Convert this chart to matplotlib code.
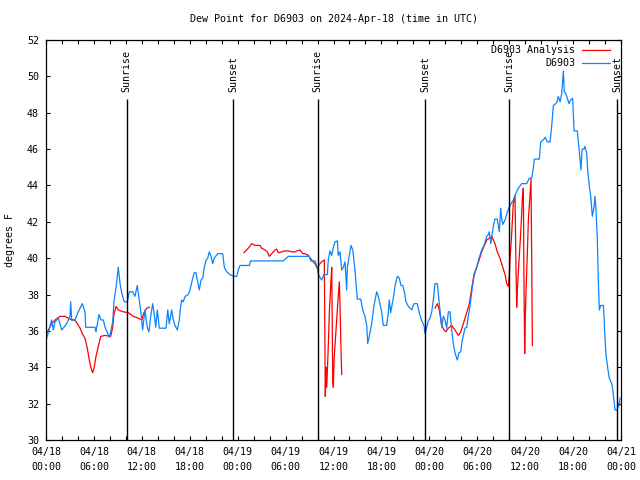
import matplotlib
matplotlib.use("Agg")
import matplotlib.pyplot as plt
import numpy as np

# hours since 04/18 00:00 UTC, dew point (F)
obs_t = [0.09, 0.71, 0.91, 1.13, 1.54, 1.97, 2.59, 3.01, 3.09, 3.22, 3.63, 4.04, 4.55, 4.88, 4.97,
         6.14, 6.26, 6.64, 6.89, 7.18, 7.39, 7.93, 8.10, 8.35, 8.51, 8.77, 9.05, 9.27, 9.48, 9.80,
         10.18, 10.43, 10.86, 11.14, 11.43, 11.68, 11.89, 12.10, 12.39, 12.68, 12.89, 13.11, 13.36, 13.53,
         13.74, 13.94, 14.19, 15.03, 15.24, 15.44, 15.74, 15.94, 16.15, 16.44, 16.69, 16.87, 16.99,
         17.19, 17.41, 17.82, 18.03, 18.37, 18.57, 18.78, 18.95, 19.20, 19.41, 19.62, 19.82, 20.04,
         20.25, 20.45, 20.66, 20.87, 21.07, 21.50, 22.13, 22.33, 22.63, 23.04, 23.45, 23.88, 24.08,
         24.29, 25.46, 25.63, 29.72, 30.34, 32.97, 33.15, 33.68, 33.97, 34.10, 34.52, 34.81, 35.23,
         35.35, 35.56, 35.78, 35.98, 36.19, 36.48, 36.60, 36.81, 37.03, 37.23, 37.44, 37.65, 37.73,
         37.98, 38.19, 38.41, 38.69, 38.98, 39.41, 39.66, 39.94, 40.16, 40.28, 40.48, 40.78, 41.07,
         41.41, 41.61, 41.82, 42.04, 42.24, 42.66, 42.86, 42.99, 43.16, 43.49, 43.70, 43.99, 44.24,
         44.45, 44.67, 44.87, 45.08, 45.37, 45.79, 46.08, 46.49, 46.74, 47.05, 47.33, 47.46, 47.67,
         47.87, 48.08, 48.30, 48.50, 48.71, 49.00, 49.25, 49.55, 49.75, 49.96, 50.17, 50.38, 50.59,
         50.80, 51.00, 51.21, 51.50, 51.72, 51.93, 52.13, 52.47, 52.68, 52.88, 53.09, 53.31, 53.59,
         53.93, 54.22, 54.56, 54.85, 55.19, 55.39, 55.51, 55.69, 55.85, 56.01, 56.22, 56.51, 56.76,
         56.94, 57.06, 57.19, 57.48, 57.77, 58.10, 58.51, 58.73, 59.14, 59.57, 60.19, 60.52, 60.82,
         61.02, 61.15, 61.77, 61.95, 62.27, 62.49, 62.77, 63.11, 63.32, 63.53, 63.95, 64.15, 64.37,
         64.58, 64.70, 64.78, 64.90, 65.08, 65.28, 65.49, 65.70, 65.95, 66.12, 66.53, 66.74, 66.99,
         67.12, 67.37, 67.49, 67.71, 67.83, 68.03, 68.21, 68.41, 68.62, 68.75, 68.87, 69.03, 69.16,
         69.29, 69.46, 69.79, 69.87, 70.00, 70.12, 70.34, 70.54, 70.84, 70.97, 71.13, 71.25, 71.54,
         71.63, 71.72, 71.88]
obs_v = [35.6, 36.6, 36.05, 36.5, 36.7, 36.05, 36.4, 36.8, 37.6, 36.6, 36.6, 37.05, 37.5, 37.05, 36.2,
         36.2, 35.95, 36.9, 36.6, 36.6, 36.2, 35.65, 35.95, 36.5, 37.6, 38.4, 39.5, 38.6, 38.1, 37.6,
         37.6, 38.15, 38.15, 37.9, 38.5, 37.7, 37.0, 36.05, 37.15, 36.2, 35.95, 36.8, 37.5, 37.0,
         36.2, 37.15, 36.15, 36.15, 37.15, 36.4, 37.15, 36.6, 36.3, 36.05, 36.6, 37.4, 37.7,
         37.6, 37.9, 38.0, 38.25, 38.9, 39.2, 39.2, 38.8, 38.25, 38.8, 38.9, 39.5, 39.9,
         40.0, 40.35, 40.1, 39.7, 40.0, 40.25, 40.25, 39.5, 39.25, 39.1, 39.0, 39.0, 39.35,
         39.6, 39.6, 39.85, 39.85, 40.1, 40.1, 39.85, 39.85, 39.5, 39.1, 38.8, 39.1, 39.1,
         39.9, 40.4, 40.15, 40.6, 40.9, 40.95, 40.15, 40.35, 39.35, 39.5, 39.8, 38.25, 39.5,
         40.15, 40.7, 40.45, 39.35, 37.75, 37.75, 37.15, 36.8, 36.3, 35.3, 35.7, 36.4, 37.4,
         38.15, 37.9, 37.5, 37.0, 36.3, 36.3, 37.0, 37.7, 37.0, 37.8, 38.45, 39.0, 38.9,
         38.5, 38.5, 38.15, 37.6, 37.35, 37.15, 37.5, 37.5, 37.0, 36.55, 36.3, 35.85, 36.2,
         36.55, 36.7, 37.05, 37.7, 38.6, 38.6, 37.5, 36.2, 36.8, 36.6, 36.15, 37.05, 37.05,
         36.05, 35.3, 34.8, 34.4, 34.8, 34.85, 35.5, 36.15, 36.2, 36.8, 37.35, 38.15, 39.0,
         39.5, 40.0, 40.45, 40.7, 41.2, 41.3, 41.45, 40.8, 41.3, 41.75, 42.15, 42.15, 41.45,
         42.75, 42.2, 41.85, 42.1, 42.55, 42.9, 43.2, 43.45, 43.85, 44.1, 44.1, 44.4, 44.4,
         44.95, 45.45, 45.45, 46.4, 46.5, 46.65, 46.4, 46.4, 47.25, 48.4, 48.55, 48.9, 48.6,
         49.05, 49.8, 50.3, 49.15, 49.05, 48.8, 48.5, 48.7, 48.8, 47.0, 47.0, 46.05, 44.85,
         46.0, 46.0, 46.15, 45.75, 44.85, 43.95, 43.4, 42.3, 42.8, 43.4, 42.65, 41.1, 38.8,
         37.15, 37.4, 37.4, 36.8, 35.6, 34.7, 33.95, 33.4, 33.1, 32.75, 32.1, 31.65, 31.65,
         32.0, 31.85, 32.3]

# analysis series, NaN marks a gap
ana_t = [0.13, 0.71, 1.13, 1.75, 2.38, 2.79, 3.22, 3.63, 3.92, 4.26, 4.60, 4.88, 5.17, 5.42, 5.64,
         5.85, 6.01, 6.26, 6.55, 6.85, 7.39, 8.10, 8.35, 8.51, 8.77, 9.05, 9.68, 10.31, 10.93, 11.56,
         11.98, 12.27, 12.61, 12.94, 18.0,
         24.79, 25.33, 25.76, 26.17, 26.80, 27.01, 27.42, 27.71, 27.96, 28.26, 28.68, 28.89, 29.09,
         29.52, 29.93, 30.34, 30.77, 31.18, 31.39, 31.81, 32.14, 32.43, 32.85, 33.27, 33.68, 33.97,
         34.10, 34.52, 34.85, 34.97, 35.06, 35.15, 35.35, 35.48, 35.65, 35.78, 35.90, 35.98, 36.07,
         36.19, 36.40, 36.53, 36.73, 36.81, 36.94, 37.03, 42.0,
         48.71, 49.00, 49.25, 49.55, 49.84, 50.05, 50.38, 50.80, 51.21, 51.63, 51.93, 52.26, 52.68,
         53.01, 53.31, 53.59, 53.93, 54.22, 54.56, 54.85, 55.19, 55.51, 55.81, 56.01, 56.22, 56.51,
         56.85, 57.19, 57.48, 57.69, 57.89, 58.01, 58.10, 58.31, 58.51, 58.73, 58.85, 58.94, 59.02,
         59.23, 59.44, 59.65, 59.77, 59.86, 59.94, 60.02, 60.11, 60.27, 60.40, 60.61, 60.73, 60.82,
         60.90]
ana_v = [35.9, 36.4, 36.6, 36.8, 36.8, 36.7, 36.6, 36.6, 36.4, 36.15, 35.8, 35.6, 35.05, 34.4, 33.95,
         33.7, 33.95, 34.6, 35.15, 35.7, 35.75, 35.7, 36.2, 36.9, 37.35, 37.15, 37.05, 37.0, 36.8, 36.7,
         36.6, 37.0, 37.25, 37.3, np.nan,
         40.3, 40.55, 40.8, 40.7, 40.7, 40.55, 40.45, 40.35, 40.1, 40.25, 40.45, 40.5, 40.3,
         40.35, 40.4, 40.4, 40.35, 40.35, 40.4, 40.45, 40.25, 40.25, 40.15, 39.9, 39.7, 39.45,
         39.6, 39.8, 39.9, 32.4, 34.0, 32.9, 35.2, 37.0, 38.5, 39.5, 33.3, 32.9, 34.4,
         35.2, 36.6, 37.5, 38.7, 37.5, 35.0, 33.6, np.nan,
         37.25, 37.5, 37.15, 36.3, 36.05, 35.95, 36.15, 36.3, 36.05, 35.75, 35.95, 36.4, 37.0,
         37.5, 38.35, 39.1, 39.5, 39.9, 40.35, 40.65, 41.0, 41.1, 41.2, 41.0, 40.8, 40.35,
         40.0, 39.5, 39.1, 38.6, 38.45, 39.0, 39.9, 41.35, 43.0, 43.45, 39.5, 37.3, 38.25,
         39.9, 41.35, 43.3, 43.85, 38.25, 34.75, 36.8, 38.25, 40.25, 42.1, 43.55, 44.35, 39.9,
         35.2]

sunrise = [10.1, 34.0, 58.0]
sunset = [23.45, 47.5, 71.55]

xtick_hours = [0, 6, 12, 18, 24, 30, 36, 42, 48, 54, 60, 66, 72]
xtick_labels = ['04/18\n00:00', '04/18\n06:00', '04/18\n12:00', '04/18\n18:00',
                '04/19\n00:00', '04/19\n06:00', '04/19\n12:00', '04/19\n18:00',
                '04/20\n00:00', '04/20\n06:00', '04/20\n12:00', '04/20\n18:00',
                '04/21\n00:00']

plt.rcParams['font.family'] = ['DejaVu Sans Mono']
fs = 7.2

fig = plt.figure(figsize=(6.4, 4.8), dpi=100)
ax = fig.add_axes([46/640, 40/480, 575/640, 400/480])

ax.plot(ana_t, ana_v, color='#ff0000', lw=0.9, label='D6903 Analysis')
ax.plot(obs_t, obs_v, color='#0a84ff', lw=0.9, label='D6903')

for x in sunrise:
    ax.vlines(x, 30, 48.75, color='k', lw=1)
    ax.text(x, 49.15, 'Sunrise', rotation=90, ha='center', va='bottom', fontsize=fs)
for x in sunset:
    ax.vlines(x, 30, 48.75, color='k', lw=1)
    ax.text(x, 49.15, 'Sunset', rotation=90, ha='center', va='bottom', fontsize=fs)

ax.set_xlim(0, 72)
ax.set_ylim(30, 52)
ax.set_xticks(xtick_hours)
ax.set_xticklabels(xtick_labels, fontsize=fs, linespacing=1.6)
ax.set_xticks(np.arange(0, 73, 2), minor=True)
ax.set_yticks(np.arange(30, 53, 2))
ax.tick_params(axis='both', which='both', direction='in', top=True, right=True,
               length=3, width=0.8, labelsize=fs)
ax.tick_params(axis='x', pad=5)
ax.tick_params(axis='y', pad=5)
for s in ax.spines.values():
    s.set_linewidth(0.9)

ax.text(0.5, 1 + 21/400, 'Dew Point for D6903 on 2024-Apr-18 (time in UTC)',
        transform=ax.transAxes, ha='center', va='center', fontsize=fs)
fig.text(10/640, 0.5, 'degrees F', rotation=90, ha='center', va='center', fontsize=fs)

ax.legend(loc='upper right', bbox_to_anchor=(1 - 11/575, 1 - 5.5/400), frameon=False,
          markerfirst=False, fontsize=fs, handlelength=2.8, handletextpad=0.7,
          labelspacing=0.3, borderpad=0, borderaxespad=0)

fig.savefig('out.png', dpi=100)
